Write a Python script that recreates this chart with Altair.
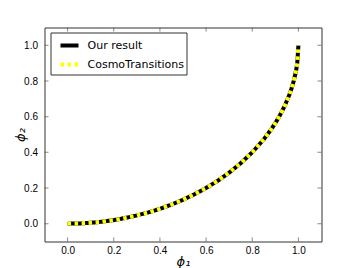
import altair as alt
import pandas as pd

# curve
phi1 = [0.0, 0.05, 0.1, 0.15, 0.2, 0.25, 0.3, 0.35, 0.4, 0.45, 0.5, 0.55, 0.6,
        0.65, 0.7, 0.75, 0.8, 0.85, 0.88, 0.9, 0.92, 0.94, 0.96, 0.97, 0.98,
        0.99, 0.995, 1.0]
phi2 = [0.0, 0.001, 0.005, 0.011, 0.02, 0.032, 0.046, 0.063, 0.083, 0.107,
        0.134, 0.165, 0.2, 0.24, 0.286, 0.339, 0.4, 0.473, 0.525, 0.564, 0.608,
        0.659, 0.72, 0.757, 0.801, 0.859, 0.9, 1.0]
series = ["Our result", "CosmoTransitions"]
ticks = [0.0, 0.2, 0.4, 0.6, 0.8, 1.0]

W, H = 277, 214

rows = []
for s in series:
    for a, b in zip(phi1, phi2):
        rows.append({"x": a, "y": b, "series": s})
df = pd.DataFrame(rows)
tdf = pd.DataFrame({"x": ticks, "y": ticks})

xs = alt.Scale(domain=[-0.1, 1.1], nice=False, zero=False)
ys = alt.Scale(domain=[-0.1, 1.1], nice=False, zero=False)

color = alt.Color(
    "series:N",
    scale=alt.Scale(domain=series, range=["#000000", "#ffff00"]),
    title=None,
    legend=alt.Legend(
        orient="none", legendX=6, legendY=5, symbolType="stroke",
        symbolStrokeWidth=4, symbolSize=324, symbolOffset=6,
        labelFontSize=11, labelFont="DejaVu Sans", labelColor="#000000",
        labelOffset=7, strokeColor="#333333", fillColor="#ffffff",
        padding=2, rowPadding=-4, cornerRadius=0,
    ),
)
dash = alt.StrokeDash(
    "series:N",
    scale=alt.Scale(domain=series, range=[[1, 0], [3.5, 3.5]]),
    title=None,
    legend=None,
)

title_style = dict(titleFont="DejaVu Sans", titleFontSize=13, titleFontStyle="italic",
                   titleFontWeight="normal", titleColor="#000000",
                   titleBaseline="middle", titleAlign="center")
xax = alt.Axis(values=ticks, format=".1f", title="ϕ₁", grid=False, ticks=False,
               domain=False, labelPadding=4, titleX=W / 2, titleY=20, **title_style)
yax = alt.Axis(values=ticks, format=".1f", title="ϕ₂", grid=False, ticks=False,
               domain=False, labelPadding=7, titleX=-24, titleY=H / 2,
               titleAngle=270, **title_style)

base = alt.Chart(df).encode(
    x=alt.X("x:Q", scale=xs, axis=xax),
    y=alt.Y("y:Q", scale=ys, axis=yax),
    color=color,
    strokeDash=dash,
)
black = base.transform_filter(alt.datum.series == "Our result").mark_line(strokeWidth=4)
yellow = base.transform_filter(alt.datum.series == "CosmoTransitions").mark_line(strokeWidth=4)

tk = alt.Chart(tdf)
xb = tk.mark_tick(orient="vertical", clip=True, size=8, thickness=1, color="#555555").encode(
    x=alt.X("x:Q", scale=xs), y=alt.value(H))
xt = tk.mark_tick(orient="vertical", clip=True, size=8, thickness=1, color="#555555").encode(
    x=alt.X("x:Q", scale=xs), y=alt.value(0))
yl = tk.mark_tick(orient="horizontal", clip=True, size=8, thickness=1, color="#555555").encode(
    y=alt.Y("y:Q", scale=ys), x=alt.value(0))
yr = tk.mark_tick(orient="horizontal", clip=True, size=8, thickness=1, color="#555555").encode(
    y=alt.Y("y:Q", scale=ys), x=alt.value(W))

chart = alt.layer(black, yellow, xb, xt, yl, yr).properties(
    width=W, height=H,
    autosize=alt.AutoSizeParams(type="none"),
    padding={"left": 36.5, "top": 19.5, "right": 20, "bottom": 26},
    view=alt.ViewBackground(stroke="#333333", strokeWidth=1),
).configure_view(
    stroke="#333333", strokeWidth=1
).configure_axis(
    labelFont="DejaVu Sans", labelFontSize=10, labelColor="#000000",
).configure(background="#ffffff")

chart.save("out.html", embed_options={"renderer": "svg", "actions": False})
